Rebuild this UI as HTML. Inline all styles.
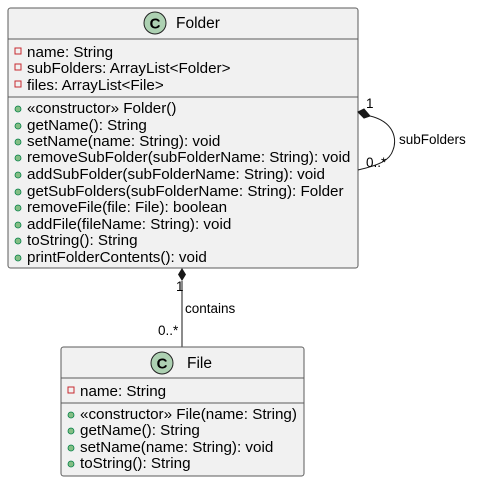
<!DOCTYPE html>
<html><head><meta charset="utf-8"><style>
html,body{margin:0;padding:0;background:#fff;}
svg text{font-family:"Liberation Sans",sans-serif;fill:#000;}
</style></head><body>
<svg width="480" height="482" viewBox="0 0 480 482" xmlns="http://www.w3.org/2000/svg">
<!-- Folder -->
<rect x="8" y="8" width="350" height="260" rx="2.5" fill="#f1f1f1" stroke="#5b5b5b" stroke-width="1"/>
<line x1="8" y1="39" x2="358" y2="39" stroke="#5b5b5b"/>
<line x1="8" y1="97" x2="358" y2="97" stroke="#5b5b5b"/>
<circle cx="155" cy="23" r="11" fill="#add1b2" stroke="#222" stroke-width="1"/>
<text x="155" y="28.5" font-size="15" font-weight="bold" text-anchor="middle">C</text>
<text x="176" y="28" font-size="15.5">Folder</text>
<g font-size="15.2">
<rect x="15" y="48" width="6" height="6" fill="none" stroke="#c82930"/>
<rect x="15" y="64" width="6" height="6" fill="none" stroke="#c82930"/>
<rect x="15" y="81" width="6" height="6" fill="none" stroke="#c82930"/>
<text x="27" y="57">name: String</text>
<text x="27" y="73">subFolders: ArrayList&lt;Folder&gt;</text>
<text x="27" y="90">files: ArrayList&lt;File&gt;</text>
<g fill="#84be84" stroke="#038048" stroke-width="0.8">
<circle cx="18" cy="109" r="3"/><circle cx="18" cy="126" r="3"/><circle cx="18" cy="142" r="3"/>
<circle cx="18" cy="158" r="3"/><circle cx="18" cy="175" r="3"/><circle cx="18" cy="192" r="3"/>
<circle cx="18" cy="208" r="3"/><circle cx="18" cy="225" r="3"/><circle cx="18" cy="241" r="3"/>
<circle cx="18" cy="258" r="3"/>
</g>
<text x="27" y="113">«constructor» Folder()</text>
<text x="27" y="130">getName(): String</text>
<text x="27" y="146">setName(name: String): void</text>
<text x="27" y="162">removeSubFolder(subFolderName: String): void</text>
<text x="27" y="179">addSubFolder(subFolderName: String): void</text>
<text x="27" y="196">getSubFolders(subFolderName: String): Folder</text>
<text x="27" y="212">removeFile(file: File): boolean</text>
<text x="27" y="229">addFile(fileName: String): void</text>
<text x="27" y="245">toString(): String</text>
<text x="27" y="262">printFolderContents(): void</text>
</g>
<!-- self loop -->
<path d="M370,116 C395,122 397,140 393,150 C390,160 380,165 358,170" fill="none" stroke="#181818"/>
<polygon points="358,112 364,109 370,116 364,118" fill="#181818" stroke="#181818"/>
<text x="366" y="108" font-size="13.5">1</text>
<text x="366" y="167" font-size="13.5">0..*</text>
<text x="399" y="144" font-size="13.5">subFolders</text>
<!-- contains -->
<line x1="182" y1="281" x2="182" y2="347" stroke="#181818"/>
<polygon points="182,268 186,274.5 182,281 178,274.5" fill="#181818"/>
<text x="176" y="291" font-size="13.5">1</text>
<text x="185" y="313" font-size="13.5">contains</text>
<text x="158" y="335" font-size="13.5">0..*</text>
<!-- File -->
<rect x="61" y="347" width="243" height="129" rx="2.5" fill="#f1f1f1" stroke="#5b5b5b"/>
<line x1="61" y1="378" x2="304" y2="378" stroke="#5b5b5b"/>
<line x1="61" y1="403" x2="304" y2="403" stroke="#5b5b5b"/>
<circle cx="162" cy="363" r="11" fill="#add1b2" stroke="#222"/>
<text x="162" y="368.5" font-size="15" font-weight="bold" text-anchor="middle">C</text>
<text x="187" y="368" font-size="15.5">File</text>
<g font-size="15.2">
<rect x="68" y="387" width="6" height="6" fill="none" stroke="#c82930"/>
<text x="80" y="396">name: String</text>
<g fill="#84be84" stroke="#038048" stroke-width="0.8">
<circle cx="71" cy="415" r="3"/><circle cx="71" cy="431" r="3"/><circle cx="71" cy="448" r="3"/><circle cx="71" cy="464" r="3"/>
</g>
<text x="80" y="419">«constructor» File(name: String)</text>
<text x="80" y="435">getName(): String</text>
<text x="80" y="452">setName(name: String): void</text>
<text x="80" y="468">toString(): String</text>
</g>
</svg>
</body></html>
